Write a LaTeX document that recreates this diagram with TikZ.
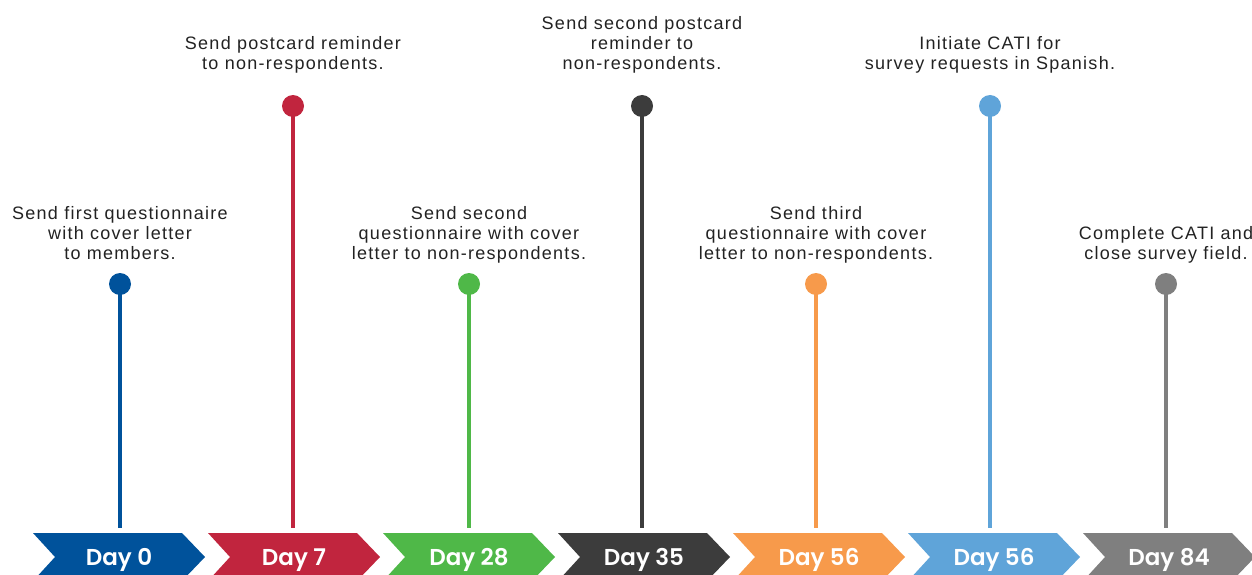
\documentclass[tikz,border=0pt]{standalone}
\usepackage{fontspec}
\setmainfont{Liberation Sans}[LetterSpace=7]
\newfontfamily\dayfont{Poppins}[UprightFont={* SemiBold}]
\definecolor{cBlue}{HTML}{00529B}
\definecolor{cRed}{HTML}{C1253E}
\definecolor{cGreen}{HTML}{4FB848}
\definecolor{cDark}{HTML}{3C3C3C}
\definecolor{cOrange}{HTML}{F79A4B}
\definecolor{cLight}{HTML}{5FA4D9}
\definecolor{cGray}{HTML}{7F7F7F}
\definecolor{labeltext}{HTML}{222222}
\begin{document}
\begin{tikzpicture}[x=1pt,y=-1pt,
  tasklabel/.style={anchor=south, inner sep=0pt, text depth=0pt, align=center,
    font=\fontsize{18}{20}\selectfont, text=labeltext},
  pin/.style={circle, fill=#1, minimum size=22pt, inner sep=0pt},
  stem/.style={draw=#1, line width=4pt, shorten >=5pt},
  daytext/.style={anchor=base, inner sep=0pt,
    text=white, font=\dayfont\fontsize{23}{24}\selectfont}]
\useasboundingbox (0,0) rectangle (1252,575);
\clip (0,0) rectangle (1252,575);
% chevron stages along the bottom: index/color/label
\foreach \i/\col/\lab in {0/cBlue/Day 0, 1/cRed/Day 7, 2/cGreen/Day 28,
    3/cDark/Day 35, 4/cOrange/Day 56, 5/cLight/Day 56, 6/cGray/Day 84} {
  \pgfmathsetmacro{\xs}{33+175*\i}
  \fill[\col] (\xs,533) -- ++(149,0) -- ++(23,24) -- ++(-23,24) -- ++(-149,0)
     -- ++(22,-24) -- cycle;
  \coordinate (top\i) at (\xs+86,533);
  \node[daytext] (c\i) at (\xs+86,565) {\lab};
}
% pins and stems: index/x/y/color
\foreach \i/\px/\py/\col in {0/120/284/cBlue, 1/293/106/cRed, 2/469/284/cGreen,
    3/642/106/cDark, 4/816/284/cOrange, 5/990/106/cLight, 6/1166/284/cGray} {
  \node[pin=\col] (d\i) at (\px,\py) {};
  \draw[stem=\col] (d\i.center) -- (d\i |- top\i);
}
% task descriptions
\node[tasklabel] (t0) at (120,260) {Send first questionnaire\\with cover letter\\to members.};
\node[tasklabel] (t1) at (293,70) {Send postcard reminder\\to non-respondents.};
\node[tasklabel] (t2) at (469,260) {Send second\\questionnaire with cover\\letter to non-respondents.};
\node[tasklabel] (t3) at (642,70) {Send second postcard\\reminder to\\non-respondents.};
\node[tasklabel] (t4) at (816,260) {Send third\\questionnaire with cover\\letter to non-respondents.};
\node[tasklabel] (t5) at (990,70) {Initiate CATI for\\survey requests in Spanish.};
\node[tasklabel] (t6) at (1166,260) {Complete CATI and\\close survey field.};
\end{tikzpicture}
\end{document}
